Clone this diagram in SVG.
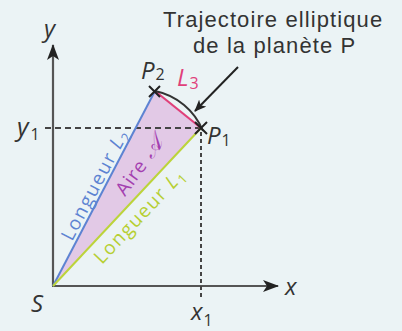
<svg xmlns="http://www.w3.org/2000/svg" width="402" height="331" viewBox="0 0 402 331">
<defs>
<style>
.bg{fill:#ebf3f5}
.axis{stroke:#555;stroke-width:2.2;fill:none}
.dash{stroke:#444;stroke-width:2;stroke-dasharray:6 4;fill:none}
.dot{stroke:#444;stroke-width:2;stroke-dasharray:4 3;fill:none}
.lbl{font-family:"Open Sans","Liberation Sans",sans-serif;fill:#333}
.ttl{font-family:"Liberation Sans","Open Sans",sans-serif;fill:#333;font-size:22px;letter-spacing:1.1px}
.it{font-style:italic}
.cross{stroke:#222;stroke-width:2}
.rot{font-family:"Open Sans","Liberation Sans",sans-serif;font-size:19px;letter-spacing:1.5px}
</style>
<marker id="ah" viewBox="0 0 16 12" refX="15" refY="6" markerWidth="16" markerHeight="12" markerUnits="userSpaceOnUse" orient="auto">
<path d="M0,0 L16,6 L0,12 L4,6 Z" fill="#222"/>
</marker>
<marker id="ah2" viewBox="0 0 12 10" refX="11" refY="5" markerWidth="12" markerHeight="10" markerUnits="userSpaceOnUse" orient="auto">
<path d="M0,0 L12,5 L0,10 L3,5 Z" fill="#222"/>
</marker>
</defs>
<rect class="bg" x="0" y="0" width="402" height="331"/>
<g id="area">
<path d="M53,286 L155,91 L201,128 Z" fill="#e2c9e6"/>
</g>
<g id="connectors">
<line class="axis" x1="53" y1="286" x2="53" y2="45" marker-end="url(#ah)"/>
<line class="axis" x1="52" y1="286" x2="278" y2="286" marker-end="url(#ah)"/>
<line class="dash" x1="45" y1="128" x2="199" y2="128"/>
<line class="dot" x1="201" y1="132" x2="201" y2="297"/>
<line x1="53" y1="286" x2="155" y2="91" stroke="#5d83d2" stroke-width="2"/>
<line x1="53" y1="286" x2="201" y2="128" stroke="#bcd43a" stroke-width="2"/>
<line x1="155" y1="91" x2="201" y2="128" stroke="#e0407a" stroke-width="2.2"/>
<path d="M155,91 A66,66 0 0 1 203,131" stroke="#333" stroke-width="2" fill="none"/>
<line x1="238" y1="67" x2="195" y2="111" stroke="#222" stroke-width="2" marker-end="url(#ah2)"/>
</g>
<g id="P2">
<path class="cross" d="M149,86 L160,97 M149,97 L160,86"/>
<text class="lbl it" x="141" y="79" font-size="24">P<tspan font-style="normal" font-size="16" dx="1" dy="1">2</tspan></text>
</g>
<g id="P1">
<path class="cross" d="M195,122 L207,134 M195,134 L207,122"/>
<text class="lbl it" x="207" y="144" font-size="24">P<tspan font-style="normal" font-size="16" dx="1" dy="2">1</tspan></text>
</g>
<g id="L3">
<text class="lbl it" x="177" y="86" font-size="24" style="fill:#e0407a">L<tspan font-style="normal" font-size="16" dx="1" dy="3">3</tspan></text>
</g>
<g id="title">
<text class="ttl" x="163" y="27">Trajectoire elliptique</text>
<text class="ttl" x="193" y="53">de la planète P</text>
</g>
<g id="axes-labels">
<text class="lbl it" x="44" y="37" font-size="24">y</text>
<text class="lbl it" x="285" y="295" font-size="24">x</text>
<text class="lbl it" x="31" y="312" font-size="24">S</text>
<text class="lbl it" x="17" y="136" font-size="25">y<tspan font-style="normal" font-size="16" dx="2" dy="4">1</tspan></text>
<text class="lbl it" x="191" y="320" font-size="24">x<tspan font-style="normal" font-size="16" dx="1" dy="6">1</tspan></text>
</g>
<g id="L2label">
<text class="rot" transform="translate(72,242) rotate(-62.3)" style="fill:#5d83d2">Longueur <tspan font-style="italic">L</tspan><tspan font-size="13" dy="4">2</tspan></text>
</g>
<g id="L1label">
<text class="rot" transform="translate(102,265) rotate(-46.7)" style="fill:#b6cf32">Longueur <tspan font-style="italic">L</tspan><tspan font-size="13" dy="4">1</tspan></text>
</g>
<g id="Alabel">
<text class="rot" transform="translate(125,197) rotate(-54)" style="fill:#a43fb0;letter-spacing:1px">Aire <tspan font-family="DejaVu Sans,serif" font-style="italic" font-size="22">𝒜</tspan></text>
</g>
</svg>
